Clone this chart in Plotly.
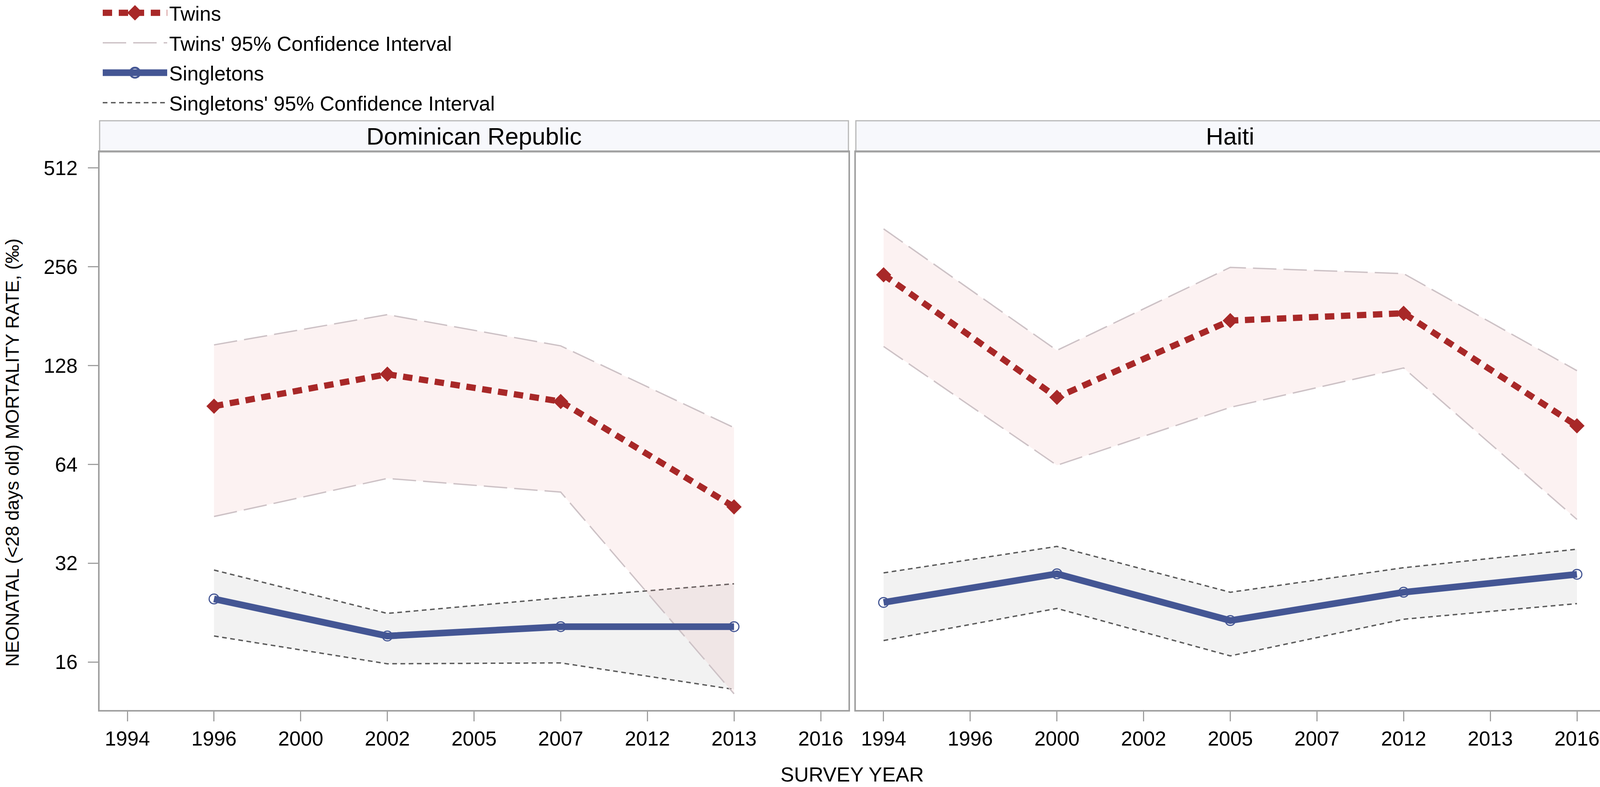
import plotly.graph_objects as go
from plotly.subplots import make_subplots

# survey years shown on both panels (categorical axis)
years = ["1994", "1996", "2000", "2002", "2005", "2007", "2012", "2013", "2016"]

# Dominican Republic
dr_years = ["1996", "2002", "2007", "2013"]
dr_twins = [96.3, 120.5, 99.5, 47.5]
dr_twins_hi = [148, 183, 147, 82.8]
dr_twins_lo = [44.4, 58.0, 52.7, 12.8]
dr_single = [24.9, 19.2, 20.5, 20.5]
dr_single_hi = [30.5, 22.5, 25.1, 27.7]
dr_single_lo = [19.2, 15.8, 15.9, 13.2]

# Haiti
ht_years = ["1994", "2000", "2005", "2012", "2016"]
ht_twins = [242, 102.5, 175.5, 184.8, 83.9]
ht_twins_hi = [334, 142.4, 255, 244, 123.5]
ht_twins_lo = [146.4, 63.6, 95.5, 125.9, 43.5]
ht_single = [24.3, 29.7, 21.4, 26.1, 29.6]
ht_single_hi = [29.9, 36.0, 26.1, 31.0, 35.3]
ht_single_lo = [18.6, 23.3, 16.7, 21.6, 24.1]

y_ticks = [16, 32, 64, 128, 256, 512]

FONT = "Liberation Sans, Arial, sans-serif"
RED = "#A82828"
BLUE = "#445694"
FRAME = "#A0A0A0"

panels = [
    ("Dominican Republic", dr_years, dr_twins, dr_twins_lo, dr_twins_hi, dr_single, dr_single_lo, dr_single_hi),
    ("Haiti", ht_years, ht_twins, ht_twins_lo, ht_twins_hi, ht_single, ht_single_lo, ht_single_hi),
]

W, H = 4115, 2014
ML, MR, MT, MB = 255, 3, 387, 197
PW = W - ML - MR
PH = H - MT - MB

fig = make_subplots(rows=1, cols=2, shared_yaxes=True, horizontal_spacing=19 / PW)

for i, (name, xs, tw, tw_lo, tw_hi, sg, sg_lo, sg_hi) in enumerate(panels):
    col = i + 1
    first = col == 1

    # singletons CI band
    fig.add_trace(go.Scatter(x=xs, y=sg_lo, mode="lines", name="Singletons' 95% Confidence Interval",
                             legendgroup="sci", legendrank=4, showlegend=first,
                             line=dict(color="#5A5A5A", width=3.5, dash="12px,9px")), row=1, col=col)
    fig.add_trace(go.Scatter(x=xs, y=sg_hi, mode="lines", fill="tonexty",
                             fillcolor="rgba(128,128,128,0.10)", legendgroup="sci", showlegend=False,
                             line=dict(color="#5A5A5A", width=3.5, dash="12px,9px")), row=1, col=col)

    # twins CI band
    fig.add_trace(go.Scatter(x=xs, y=tw_lo, mode="lines", name="Twins' 95% Confidence Interval",
                             legendgroup="tci", legendrank=2, showlegend=first,
                             line=dict(color="#CDC2C6", width=3.5, dash="60px,18px")), row=1, col=col)
    fig.add_trace(go.Scatter(x=xs, y=tw_hi, mode="lines", fill="tonexty",
                             fillcolor="rgba(230,150,150,0.12)", legendgroup="tci", showlegend=False,
                             line=dict(color="#CDC2C6", width=3.5, dash="60px,18px")), row=1, col=col)

    # estimates
    fig.add_trace(go.Scatter(x=xs, y=sg, mode="lines+markers", name="Singletons",
                             legendgroup="s", legendrank=3, showlegend=first,
                             line=dict(color=BLUE, width=17),
                             marker=dict(symbol="circle-open", size=25, color=BLUE, line=dict(width=3))),
                  row=1, col=col)
    fig.add_trace(go.Scatter(x=xs, y=tw, mode="lines+markers", name="Twins",
                             legendgroup="t", legendrank=1, showlegend=first,
                             line=dict(color=RED, width=16, dash="24px,17px"),
                             marker=dict(symbol="diamond", size=30, color=RED)),
                  row=1, col=col)

    # panel header strip
    xd = "x domain" if first else "x%d domain" % col
    fig.add_shape(type="rect", xref=xd, yref="paper", x0=0, x1=1, y0=1, y1=1 + 80 / PH,
                  fillcolor="#F7F8FC", line=dict(color="#B8B8B8", width=3), layer="below")
    fig.add_annotation(text=name, xref=xd, yref="paper", x=0.5, y=1 + 41 / PH,
                       xanchor="center", yanchor="middle", showarrow=False,
                       font=dict(size=62, color="black", family=FONT))

fig.update_xaxes(type="category", categoryorder="array", categoryarray=years,
                 tickvals=years, ticktext=years, range=[-0.32, 8.32],
                 showline=True, mirror=True, linecolor=FRAME, linewidth=4,
                 ticks="outside", ticklen=25, tickwidth=3, tickcolor=FRAME,
                 tickfont=dict(size=52, color="black", family=FONT), ticklabelstandoff=0,
                 showgrid=False, zeroline=False)

fig.update_yaxes(type="log", range=[1.0578, 2.758], tickvals=y_ticks, ticktext=[str(v) for v in y_ticks],
                 showline=True, mirror=True, linecolor=FRAME, linewidth=4,
                 showgrid=False, zeroline=False)
fig.update_yaxes(ticks="outside", ticklen=26, tickwidth=3, tickcolor=FRAME,
                 tickfont=dict(size=52, color="black", family=FONT), ticklabelstandoff=16,
                 row=1, col=1)
fig.update_yaxes(ticks="", showticklabels=False, row=1, col=2)

# axis titles
fig.add_annotation(text="SURVEY YEAR", xref="paper", yref="paper", x=0.5, y=-165 / PH,
                   xanchor="center", yanchor="middle", showarrow=False,
                   font=dict(size=52, color="black", family=FONT))
fig.add_annotation(text="NEONATAL (<28 days old) MORTALITY RATE, (‰)", xref="paper", yref="paper",
                   x=(32 - ML) / PW, y=(H - MB - 1157) / PH, textangle=-90,
                   xanchor="center", yanchor="middle", showarrow=False,
                   font=dict(size=48, color="black", family=FONT))

fig.update_layout(
    width=W, height=H,
    margin=dict(l=ML, r=MR, t=MT, b=MB),
    paper_bgcolor="white", plot_bgcolor="white",
    font=dict(family=FONT, color="black"),
    legend=dict(x=3 / PW, y=1 + MT / PH, xanchor="left", yanchor="top",
                font=dict(size=52, color="black", family=FONT),
                itemwidth=165, tracegroupgap=6, bgcolor="rgba(0,0,0,0)"),
)

# plotly caps legend line width / marker size; restore the real thickness of the
# two estimate keys, nudge the legend up, and drop the page's default 8px margin
post_js = """
document.body.style.margin = '0';
document.body.style.overflow = 'hidden';
var gd = document.getElementById('{plot_id}');
var keys = {'Twins': [16, 1.9], 'Singletons': [17, 1.6]};
gd.querySelectorAll('.legend .traces').forEach(function (item) {
    var txt = item.querySelector('.legendtext');
    var k = keys[txt ? txt.textContent : ''];
    if (!k) return;
    item.querySelectorAll('.legendlines path').forEach(function (p) {
        p.style.strokeWidth = k[0] + 'px';
    });
    item.querySelectorAll('.legendpoints path').forEach(function (p) {
        p.setAttribute('transform', (p.getAttribute('transform') || '') + ' scale(' + k[1] + ')');
    });
});
var lg = gd.querySelector('.legend');
if (lg) lg.setAttribute('transform', (lg.getAttribute('transform') || '') + ' translate(0,-10)');
"""

fig.write_html("out.html", config={"displayModeBar": False}, post_script=post_js)
